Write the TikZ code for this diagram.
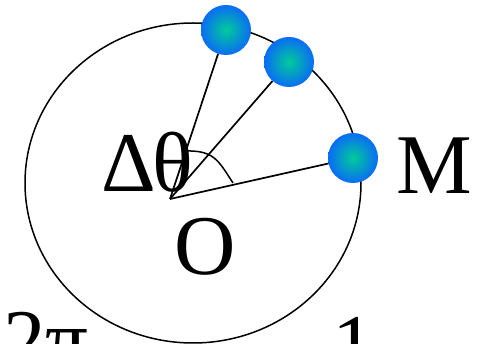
\documentclass[tikz,border=0pt]{standalone}
\usepackage{fontspec}
\setmainfont{Liberation Serif}
\usepackage{xcolor}
\definecolor{ball-core}{HTML}{00CC99}
\definecolor{ball-rim}{HTML}{0A6CF5}
\usetikzlibrary{calc}

\begin{document}
\begin{tikzpicture}[
    x=1pt, y=-1pt,
    ball/.style={
      circle,
      minimum size=50pt,
      inner sep=0pt,
      shading=radial,
      inner color=ball-core,
      outer color=ball-rim
    },
    spoke/.style={
      line width=1.7pt,
      color=black
    },
    letter/.style={
      font=\fontsize{85}{90}\selectfont,
      inner sep=0pt
    }
  ]
    \useasboundingbox (0,0) rectangle (480,344);
    \clip (0,0) rectangle (480,344);

    % orbit
    \draw[line width=1.5pt] (193,183) ellipse [x radius=168, y radius=160];

    % centre and the three positions
    \coordinate (o) at (170,199);
    \node[ball] (p1) at (226,30)  {};
    \node[ball] (p2) at (289,62)  {};
    \node[ball] (m)  at (353,158) {};

    \draw[spoke] (o) -- (p1);
    \draw[spoke] (o) -- (p2);
    \draw[spoke] (o) -- (m);

    % angle mark
    \draw[line width=1.5pt] (184,151) .. controls (214,150) and (218,160) .. (233,183);

    % labels
    \node[letter, anchor=base west] (dtheta) at (101,192) {Δ\kern-3ptθ};
    \node[letter, anchor=base west] (mlabel) at (396,194) {M};
    \node[letter, anchor=base west] (olabel) at (174,275) {O};
    \node[letter, anchor=base west] (twopi)  at (3,369)   {2π};
    \node[letter, anchor=base west] (one)    at (332,374) {1};
  \end{tikzpicture}
\end{document}
